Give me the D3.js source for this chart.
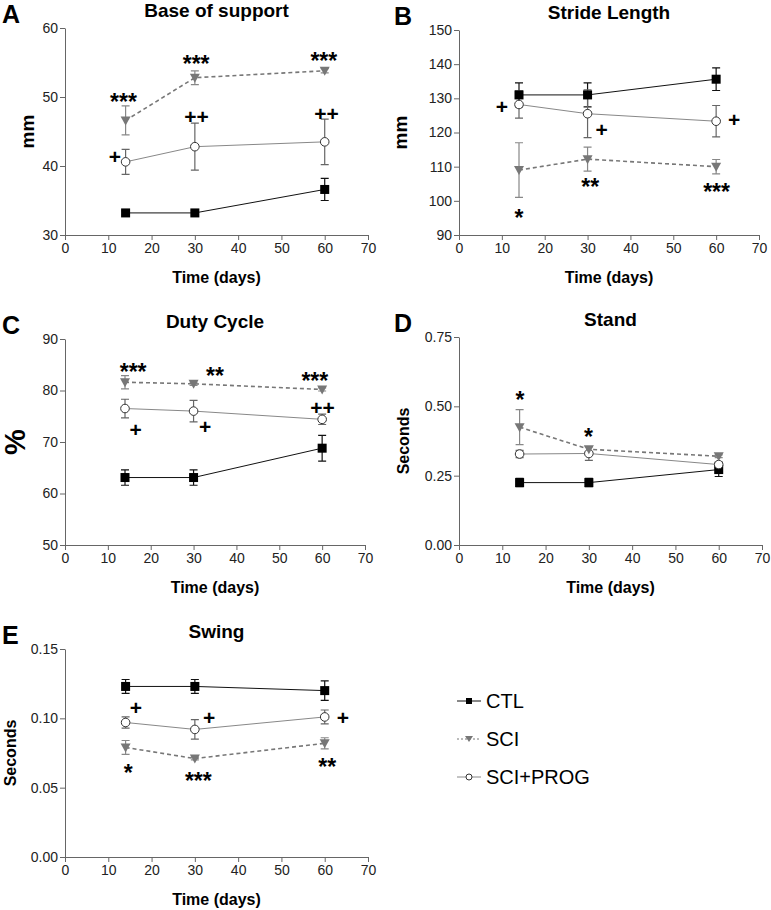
<!DOCTYPE html>
<html>
<head>
<meta charset="utf-8">
<script src="https://cdn.jsdelivr.net/npm/d3@7"></script>
<style>
    body { margin: 0; background: #fff; }
    svg { display: block; font-family: "Liberation Sans", Arial, sans-serif; }
    .axis path, .axis line { stroke: #666; }
    .axis text { font-size: 14px; fill: #222; }
</style>
</head>
<body>
<svg id="chart" width="771" height="910"></svg>
<script>
    // shared x values
    const days = [14, 30, 60];
    const xTicks = [0, 10, 20, 30, 40, 50, 60, 70];

    // A - base of support (mm)
    const ctlA = [33.2, 33.2, 36.6], ctlAErr = [0.3, 0.3, 1.6];
    const sciA = [46.6, 52.8, 53.8], sciAErr = [2.1, 1.0, 0.3];
    const progA = [40.6, 42.8, 43.5], progAErr = [1.8, 3.4, 3.3];
    const ticksA = [30, 40, 50, 60];
    const annotA = [[13.5, 50.0, "***"], [30.3, 55.5, "***"], [59.8, 55.9, "***"],
                    [30.4, 47.1, "++"], [60.4, 47.6, "++"], [11.5, 41.35, "+"]];

    // B - stride length (mm)
    const ctlB = [131, 131, 135.6], ctlBErr = [3.5, 3.5, 3.3];
    const sciB = [109, 112.2, 110], sciBErr = [8, 3.5, 2.1];
    const progB = [128.2, 125.5, 123.3], progBErr = [4, 7, 4.6];
    const ticksB = [90, 100, 110, 120, 130, 140, 150];
    const annotB = [[10.0, 127.6, "+"], [33.3, 120.9, "+"], [64.2, 123.7, "+"],
                    [14.0, 96.4, "*"], [30.6, 105.6, "**"], [60.1, 104.1, "***"]];

    // C - duty cycle (%)
    const ctlC = [63.1, 63.1, 68.8], ctlCErr = [1.5, 1.5, 2.5];
    const sciC = [81.6, 81.3, 80.2], sciCErr = [1.3, 0.3, 0.3];
    const progC = [76.5, 76.0, 74.4], progCErr = [1.8, 2.1, 1.0];
    const ticksC = [50, 60, 70, 80, 90];
    const annotC = [[15.9, 84.6, "***"], [35.0, 83.8, "**"], [58.3, 82.8, "***"],
                    [60.1, 76.7, "++"], [16.5, 72.3, "+"], [32.7, 73.0, "+"]];

    // D - stand (seconds)
    const ctlD = [0.225, 0.225, 0.272], ctlDErr = [0.015, 0.015, 0.025];
    const sciD = [0.425, 0.345, 0.32], sciDErr = [0.063, 0.01, 0.005];
    const progD = [0.328, 0.33, 0.29], progDErr = [0.013, 0.025, 0.01];
    const ticksD = [0, 0.25, 0.5, 0.75];
    const annotD = [[14.1, 0.541, "*"], [29.9, 0.406, "*"]];

    // E - swing (seconds)
    const ctlE = [0.123, 0.123, 0.120], ctlEErr = [0.005, 0.005, 0.007];
    const sciE = [0.079, 0.071, 0.082], sciEErr = [0.005, 0.001, 0.004];
    const progE = [0.097, 0.092, 0.101], progEErr = [0.004, 0.007, 0.005];
    const ticksE = [0, 0.05, 0.10, 0.15];
    const annotE = [[16.4, 0.1077, "+"], [33.3, 0.1000, "+"], [64.2, 0.1007, "+"],
                    [14.6, 0.064, "*"], [30.8, 0.0586, "***"], [60.6, 0.0687, "**"]];

    const legendNames = ["CTL", "SCI", "SCI+PROG"];

    const styles = {
        ctl: {line: "#111", width: 1, dash: null, err: "#111", marker: "square"},
        prog: {line: "#888", width: 1, dash: null, err: "#666", marker: "circle"},
        sci: {line: "#777", width: 1.6, dash: "4,3", err: "#888", marker: "tri"}
    };

    const panels = [
        {label: "A", title: "Base of support", ylab: "mm", ylabSize: 19, ylabX: 27,
         box: [65, 28, 368, 235], ticks: ticksA, fmt: d3.format("d"),
         ctl: [ctlA, ctlAErr], sci: [sciA, sciAErr], prog: [progA, progAErr], annot: annotA},
        {label: "B", title: "Stride Length", ylab: "mm", ylabSize: 19, ylabX: 400,
         box: [459, 30, 759, 235], ticks: ticksB, fmt: d3.format("d"),
         ctl: [ctlB, ctlBErr], sci: [sciB, sciBErr], prog: [progB, progBErr], annot: annotB},
        {label: "C", title: "Duty Cycle", ylab: "%", ylabSize: 29, ylabX: 15,
         box: [65, 339, 365, 545], ticks: ticksC, fmt: d3.format("d"),
         ctl: [ctlC, ctlCErr], sci: [sciC, sciCErr], prog: [progC, progCErr], annot: annotC},
        {label: "D", title: "Stand", ylab: "Seconds", ylabSize: 16, ylabX: 403,
         box: [459, 337, 762, 545], ticks: ticksD, fmt: d3.format(".2f"),
         ctl: [ctlD, ctlDErr], sci: [sciD, sciDErr], prog: [progD, progDErr], annot: annotD},
        {label: "E", title: "Swing", ylab: "Seconds", ylabSize: 16, ylabX: 10,
         box: [65, 649, 368, 857], ticks: ticksE, fmt: d3.format(".2f"),
         ctl: [ctlE, ctlEErr], sci: [sciE, sciEErr], prog: [progE, progEErr], annot: annotE}
    ];

    const svg = d3.select("#chart");

    const drawMarker = (sel, kind, x, y) => {
        const s = styles[kind];
        if (s.marker === "square") {
            sel.append("rect")
                .attr("x", x - 4.5).attr("y", y - 4.5)
                .attr("width", 9).attr("height", 9)
                .attr("fill", "#000");
        } else if (s.marker === "circle") {
            sel.append("circle")
                .attr("cx", x).attr("cy", y).attr("r", 4.3)
                .attr("fill", "#fff").attr("stroke", "#333").attr("stroke-width", 1);
        } else {
            sel.append("path")
                .attr("d", `M${x - 5},${y - 4}L${x + 5},${y - 4}L${x},${y + 5}Z`)
                .attr("fill", "#777");
        }
    };

    panels.forEach(p => {
        const [left, top, right, bottom] = p.box;
        const x = d3.scaleLinear().domain([0, 70]).range([left, right]);
        const y = d3.scaleLinear().domain(d3.extent(p.ticks)).range([bottom, top]);
        const g = svg.append("g");
        const mid = (left + right) / 2;

        g.append("g")
            .attr("class", "axis")
            .attr("transform", `translate(${left},0)`)
            .call(d3.axisLeft(y).tickValues(p.ticks).tickFormat(p.fmt).tickSize(5).tickSizeOuter(0).tickPadding(2));
        g.append("g")
            .attr("class", "axis")
            .attr("transform", `translate(0,${bottom})`)
            .call(d3.axisBottom(x).tickValues(xTicks).tickSize(5).tickSizeOuter(0).tickPadding(3));

        g.append("text")
            .attr("x", mid).attr("y", top - 11)
            .attr("text-anchor", "middle")
            .style("font-weight", "bold").style("font-size", "19px")
            .text(p.title);
        g.append("text")
            .attr("x", left < 200 ? 2 : 394).attr("y", top - 5)
            .style("font-weight", "bold").style("font-size", "25px")
            .text(p.label);
        g.append("text")
            .attr("x", mid).attr("y", bottom + 48)
            .attr("text-anchor", "middle")
            .style("font-weight", "bold").style("font-size", "16px")
            .text("Time (days)");
        g.append("text")
            .attr("transform", `translate(${p.ylabX},${(top + bottom) / 2}) rotate(-90)`)
            .attr("text-anchor", "middle")
            .attr("dominant-baseline", "central")
            .style("font-weight", "bold").style("font-size", `${p.ylabSize}px`)
            .text(p.ylab);

        const line = d3.line().x((d, i) => x(days[i])).y(d => y(d));

        ["ctl", "prog", "sci"].forEach(kind => {
            const s = styles[kind];
            const [vals, errs] = p[kind];
            g.append("path")
                .datum(vals)
                .attr("d", line)
                .attr("fill", "none")
                .attr("stroke", s.line)
                .attr("stroke-width", s.width)
                .attr("stroke-dasharray", s.dash);
            vals.forEach((v, i) => {
                const cx = x(days[i]);
                const y0 = y(v - errs[i]), y1 = y(v + errs[i]);
                g.append("path")
                    .attr("d", `M${cx},${y0}V${y1}M${cx - 4},${y0}H${cx + 4}M${cx - 4},${y1}H${cx + 4}`)
                    .attr("stroke", s.err).attr("stroke-width", 1.2).attr("fill", "none");
            });
        });
        ["ctl", "prog", "sci"].forEach(kind => {
            const [vals] = p[kind];
            vals.forEach((v, i) => drawMarker(g, kind, x(days[i]), y(v)));
        });

        p.annot.forEach(([ax, ay, t]) => {
            const star = t[0] === "*";
            const fs = star ? 23 : 21;
            const k = star ? 0.56 : 0.34;
            g.append("text")
                .attr("x", x(ax)).attr("y", y(ay) + k * fs)
                .attr("text-anchor", "middle")
                .style("font-weight", "bold").style("font-size", `${fs}px`)
                .text(t);
        });
    });

    // legend
    const legend = svg.append("g");
    const kinds = ["ctl", "sci", "prog"];
    legendNames.forEach((name, i) => {
        const ly = 701 + i * 38;
        const s = styles[kinds[i]];
        legend.append("line")
            .attr("x1", 457).attr("x2", 481).attr("y1", ly).attr("y2", ly)
            .attr("stroke", s.line).attr("stroke-width", 1)
            .attr("stroke-dasharray", kinds[i] === "sci" ? "2,2" : null);
        const m = legend.append("g");
        if (kinds[i] === "ctl") {
            m.append("rect").attr("x", 466).attr("y", ly - 3).attr("width", 6).attr("height", 6).attr("fill", "#000");
        } else if (kinds[i] === "sci") {
            m.append("path").attr("d", `M${465},${ly - 3}L${473},${ly - 3}L${469},${ly + 3}Z`).attr("fill", "#777");
        } else {
            m.append("circle").attr("cx", 469).attr("cy", ly).attr("r", 3).attr("fill", "#fff").attr("stroke", "#333");
        }
        legend.append("text")
            .attr("x", 486).attr("y", ly)
            .attr("dominant-baseline", "central")
            .style("font-size", "20px")
            .text(name);
    });
</script>
</body>
</html>
